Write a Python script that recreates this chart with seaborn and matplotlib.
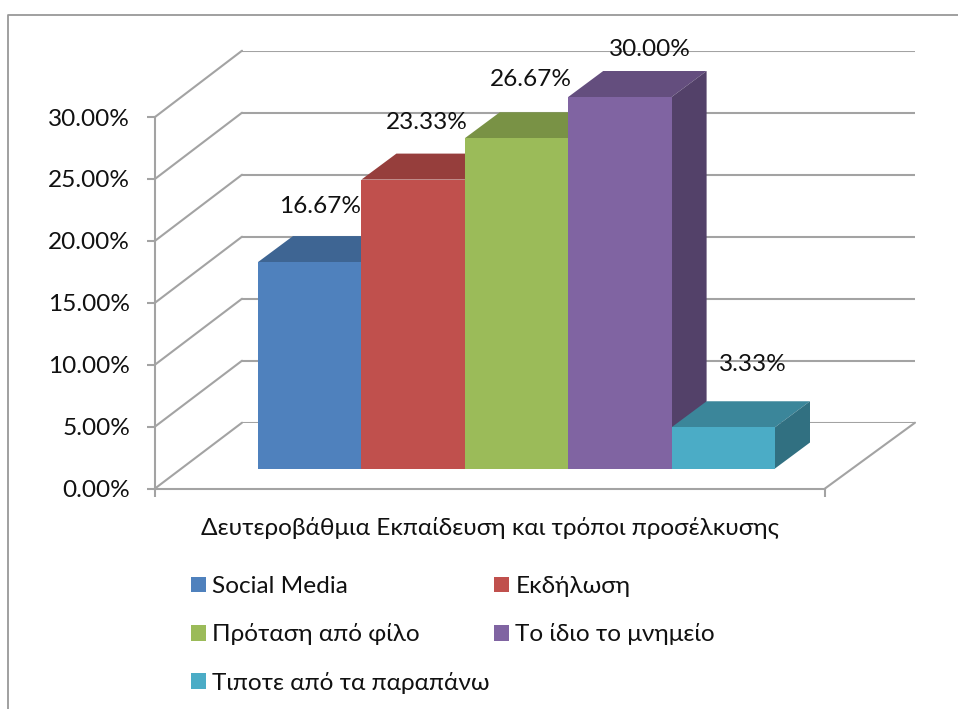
import matplotlib
matplotlib.use("Agg")
import pandas as pd
import matplotlib.pyplot as plt
import seaborn as sns
from matplotlib.colors import to_rgb
from matplotlib.lines import Line2D
from matplotlib.patches import Polygon

# data
categories = ["Social Media", "Εκδήλωση", "Πρόταση από φίλο",
              "Το ίδιο το μνημείο", "Τιποτε από τα παραπάνω"]
values = [16.67, 23.33, 26.67, 30.00, 3.33]
colors = ["#4F81BD", "#C0504D", "#9BBB59", "#8064A2", "#4BACC6"]
y_ticks = [0, 5, 10, 15, 20, 25, 30]
x_title = "Δευτεροβάθμια Εκπαίδευση και τρόποι προσέλκυσης"

# layout, in pixels
W, H = 958, 709
GRID = "#a3a3a3"
TEXT = "#111111"
FS = 17.6
LW = 1.5
DEPTH_X, DEPTH_Y = 35, 26          # depth of a bar
LABEL_OFFSETS = [(10, 56), (14, 57), (14, 59), (30, 48), (30, 63)]


def px_axes(fig, left, top, right, bottom):
    return fig.add_axes([left / W, 1 - bottom / H, (right - left) / W, (bottom - top) / H])


def shade(color, k):
    return tuple(c * k for c in to_rgb(color))


sns.set_theme(style="white")
plt.rcParams["font.family"] = ["Lato", "Noto Sans", "DejaVu Sans"]

fig = plt.figure(figsize=(W / 100, H / 100), dpi=100)

# back wall with its gridlines
wall_ax = px_axes(fig, 242, 50.7, 915, 422.7)
wall_ax.set_xlim(0, 1)
wall_ax.set_ylim(0, 30)
wall_ax.set_yticks(y_ticks)
wall_ax.set_xticks([])
wall_ax.set_yticklabels([])
wall_ax.tick_params(left=False)
wall_ax.grid(axis="y", color=GRID, lw=LW)
wall_ax.set_axisbelow(True)
wall_ax.patch.set_alpha(0)
sns.despine(ax=wall_ax, left=True, bottom=True)

# front plane: value axis and floor edge
ax = px_axes(fig, 155, 117, 825, 488.5)
ax.set_xlim(0, 1)
ax.set_ylim(0, 30)
ax.set_yticks(y_ticks)
ax.set_yticklabels([f"{v:.2f}%" for v in y_ticks], fontsize=FS, color=TEXT)
ax.set_xticks([0, 1])
ax.set_xticklabels([])
ax.tick_params(axis="both", length=5.5, width=LW, color=GRID, direction="out",
               left=True, bottom=True)
ax.tick_params(axis="y", pad=12.5)
ax.set_xlabel(x_title, fontsize=FS, color=TEXT, labelpad=11.8)
ax.patch.set_alpha(0)
sns.despine(ax=ax)
for side in ["left", "bottom"]:
    ax.spines[side].set_color(GRID)
    ax.spines[side].set_linewidth(LW)

# diagonals between front plane and back wall
fig.canvas.draw()
to_front = ax.transData.inverted()
for v in y_ticks:
    bx, by = to_front.transform(wall_ax.transData.transform((0, v)))
    ax.plot([0, bx], [v, by], color=GRID, lw=LW, clip_on=False)
rx, ry = to_front.transform(wall_ax.transData.transform((1, 0)))
ax.plot([1, rx], [0, ry], color=GRID, lw=LW, clip_on=False)

# bars, standing half way into the depth
df = pd.DataFrame({"cat": categories, "value": values})
bar_ax = px_axes(fig, 258, 97, 775, 468.5)
sns.barplot(data=df, x="cat", y="value", hue="cat", palette=colors, width=1,
            dodge=False, saturation=1, linewidth=0, ax=bar_ax)
bar_ax.set_xlim(-0.5, 4.5)
bar_ax.set_ylim(0, 30)
bar_ax.axis("off")

dx = DEPTH_X / ((775 - 258) / 5)
dy = DEPTH_Y / ((468.5 - 97) / 30)
bars = list(bar_ax.patches)[:len(values)]
for i, (bar, col) in enumerate(zip(bars, colors)):
    x0, x1 = bar.get_x(), bar.get_x() + bar.get_width()
    h = bar.get_height()
    z = 3 + i * 3
    bar_ax.add_patch(Polygon([(x0, h), (x1, h), (x1 + dx, h + dy), (x0 + dx, h + dy)],
                             fc=shade(col, 0.78), ec="none", clip_on=False, zorder=z))
    bar_ax.add_patch(Polygon([(x1, 0), (x1 + dx, dy), (x1 + dx, h + dy), (x1, h)],
                             fc=shade(col, 0.65), ec="none", clip_on=False, zorder=z))
    bar.set_zorder(z + 1)
    bar.set_clip_on(False)
    off = LABEL_OFFSETS[i]
    bar_ax.annotate(f"{values[i]:.2f}%", (i, h), xytext=off, textcoords="offset pixels",
                    ha="center", va="center", fontsize=FS, color=TEXT, zorder=30,
                    annotation_clip=False)

# legend, row order comes from filling column by column
handles = [bars[0], bars[2], bars[4], bars[1], bars[3]]
labels = [categories[0], categories[2], categories[4], categories[1], categories[3]]
fig.legend(handles, labels, ncol=2, loc="upper left", bbox_to_anchor=(191 / W, 1 - 576 / H),
           frameon=False, fontsize=FS, labelcolor=TEXT, handlelength=0.6, handleheight=0.6,
           handletextpad=0.26, labelspacing=1.08, columnspacing=0.2, borderpad=0, borderaxespad=0)

# page frame
fig.add_artist(Line2D([8 / W, 8 / W, 1], [0, 1 - 15 / H, 1 - 15 / H], color="#999999", lw=1.3))

fig.savefig("out.png", dpi=100)
